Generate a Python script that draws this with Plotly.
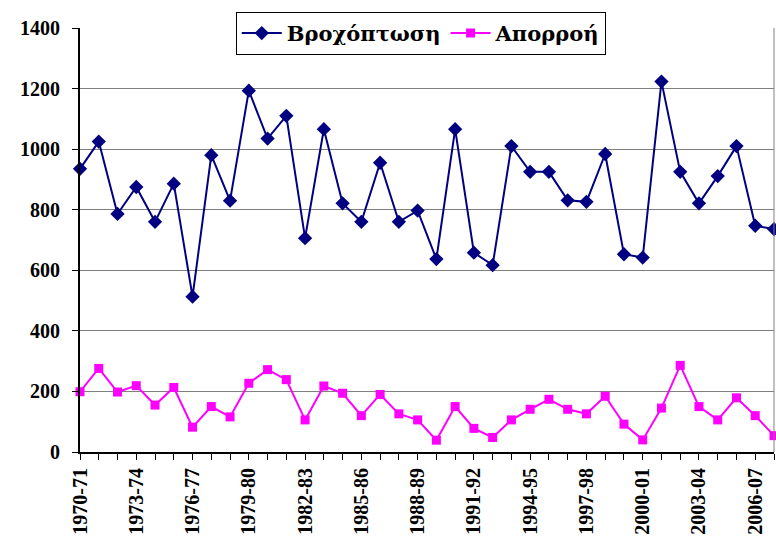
import plotly.graph_objects as go

# hydrological years 1970-71 .. 2007-08
years = [f"{y}-{str(y + 1)[-2:]}" for y in range(1970, 2008)]

rainfall = [935, 1025, 786, 875, 760, 886, 513, 980, 830, 1193,
            1035, 1110, 706, 1066, 821, 760, 955, 760, 797, 637,
            1066, 658, 617, 1010, 925, 925, 831, 826, 984, 653,
            642, 1223, 925, 821, 911, 1010, 747, 736]

runoff = [199, 276, 198, 219, 155, 213, 82, 150, 116, 227,
          272, 239, 106, 218, 194, 120, 190, 126, 106, 39,
          150, 78, 48, 106, 141, 174, 141, 126, 184, 92,
          40, 145, 286, 150, 106, 179, 120, 54]

y_ticks = [0, 200, 400, 600, 800, 1000, 1200, 1400]

idx = list(range(len(years)))
tick_text = [yr if i % 3 == 0 else "" for i, yr in enumerate(years)]

fig = go.Figure()

fig.add_trace(go.Scatter(
    x=idx, y=rainfall,
    mode="lines+markers",
    name="Βροχόπτωση",
    line=dict(color="#000080", width=2),
    marker=dict(symbol="diamond", size=11, color="#000080"),
    cliponaxis=False,
))

fig.add_trace(go.Scatter(
    x=idx, y=runoff,
    mode="lines+markers",
    name="Απορροή",
    line=dict(color="#FF00FF", width=2),
    marker=dict(symbol="square", size=9, color="#FF00FF"),
    cliponaxis=False,
))

# right border of plot area
fig.add_shape(type="line", xref="paper", yref="paper", x0=1, x1=1, y0=0, y1=1,
              line=dict(color="#808080", width=1))

fig.update_layout(
    width=776, height=552,
    margin=dict(l=80, r=2, t=28, b=100, autoexpand=False),
    paper_bgcolor="white",
    plot_bgcolor="white",
    font=dict(family="Liberation Serif", size=20, color="black"),
    showlegend=True,
    legend=dict(
        orientation="h",
        x=0.491, xanchor="center",
        y=1.038, yanchor="top",
        bgcolor="white",
        bordercolor="black",
        borderwidth=1,
        font=dict(family="DejaVu Serif", size=21, color="black", weight="bold"),
        itemwidth=40,
    ),
    xaxis=dict(
        range=[0, 37],
        automargin=False,
        tickmode="array",
        tickvals=idx,
        ticktext=tick_text,
        tickangle=-90,
        ticks="outside",
        ticklen=6,
        tickcolor="black",
        showline=True,
        linecolor="black",
        linewidth=2,
        showgrid=False,
        zeroline=False,
        tickfont=dict(family="Liberation Serif", size=20, weight="bold"),
    ),
    yaxis=dict(
        range=[0, 1400],
        automargin=False,
        tickmode="array",
        tickvals=y_ticks,
        ticks="outside",
        ticklen=6,
        tickcolor="black",
        ticklabelstandoff=8,
        showline=True,
        linecolor="black",
        linewidth=2,
        showgrid=True,
        gridcolor="#808080",
        gridwidth=1,
        zeroline=False,
        tickfont=dict(family="Liberation Serif", size=20, weight="bold"),
    ),
)

# drop the default page margin so the figure sits at the window origin
fig.write_html("out.html", config={"displayModeBar": False},
               post_script="document.body.style.margin='0';")
